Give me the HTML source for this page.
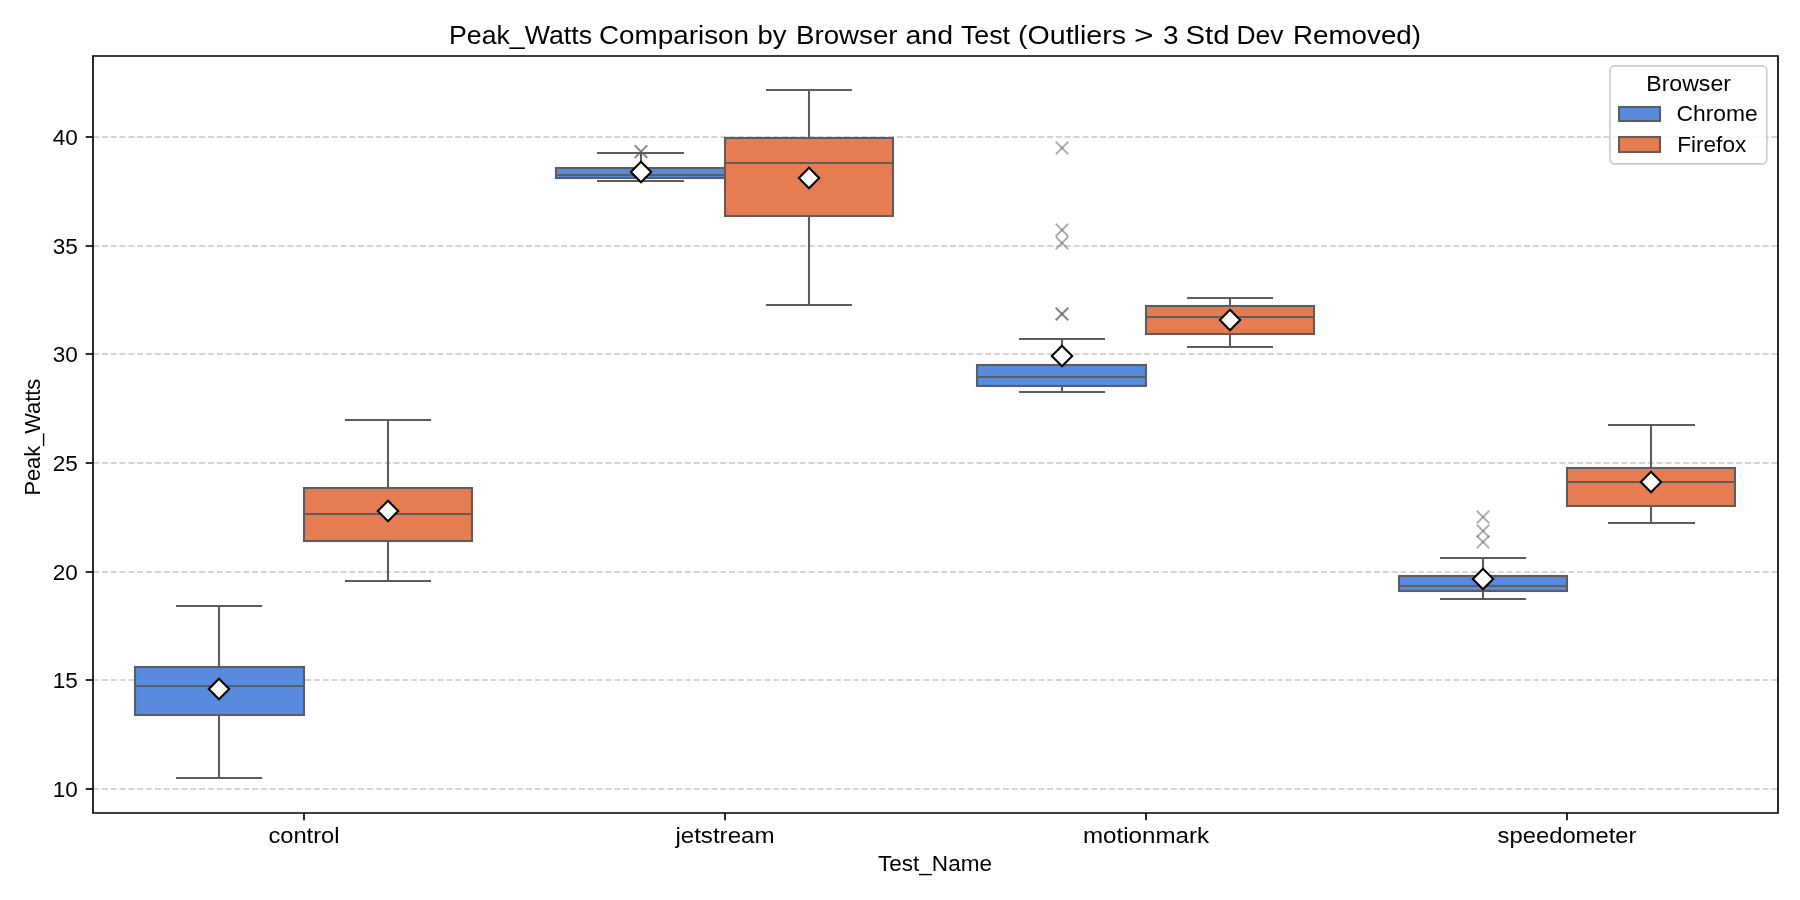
<!DOCTYPE html>
<html><head><meta charset="utf-8"><title>Peak_Watts Comparison</title>
<style>html,body{margin:0;padding:0;background:#fff;-webkit-font-smoothing:antialiased;}svg{display:block;will-change:transform;}text{font-family:"Liberation Sans", sans-serif;fill:#000;}</style></head><body>
<svg width="1800" height="900" viewBox="0 0 1800 900">
<rect x="0" y="0" width="1800" height="900" fill="#fff"/>
<line x1="93.0" y1="789" x2="1778.0" y2="789" stroke="#c8c8c8" stroke-width="1.67" stroke-dasharray="6.1667 2.6667"/>
<line x1="93.0" y1="680" x2="1778.0" y2="680" stroke="#c8c8c8" stroke-width="1.67" stroke-dasharray="6.1667 2.6667"/>
<line x1="93.0" y1="572" x2="1778.0" y2="572" stroke="#c8c8c8" stroke-width="1.67" stroke-dasharray="6.1667 2.6667"/>
<line x1="93.0" y1="463" x2="1778.0" y2="463" stroke="#c8c8c8" stroke-width="1.67" stroke-dasharray="6.1667 2.6667"/>
<line x1="93.0" y1="354" x2="1778.0" y2="354" stroke="#c8c8c8" stroke-width="1.67" stroke-dasharray="6.1667 2.6667"/>
<line x1="93.0" y1="246" x2="1778.0" y2="246" stroke="#c8c8c8" stroke-width="1.67" stroke-dasharray="6.1667 2.6667"/>
<line x1="93.0" y1="137" x2="1778.0" y2="137" stroke="#c8c8c8" stroke-width="1.67" stroke-dasharray="6.1667 2.6667"/>
<g stroke="#5d5d5d" stroke-width="2.08" fill="none">
<line x1="219" y1="667" x2="219" y2="606"/>
<line x1="219" y1="715" x2="219" y2="778"/>
</g>
<rect x="135" y="667" width="169" height="48" fill="#588bde" stroke="#5d5d5d" stroke-width="2.08"/>
<g stroke="#5d5d5d" stroke-width="2.08" fill="none" stroke-linecap="square">
<line x1="177" y1="606" x2="261" y2="606"/>
<line x1="177" y1="778" x2="261" y2="778"/>
</g>
<line x1="135" y1="686" x2="304" y2="686" stroke="#5d5d5d" stroke-width="2.08"/>
<path d="M219 678.80L229.20 689L219 699.20L208.80 689Z" fill="#fff" stroke="#000" stroke-width="2.08"/>
<g stroke="#5d5d5d" stroke-width="2.08" fill="none">
<line x1="388" y1="488" x2="388" y2="420"/>
<line x1="388" y1="541" x2="388" y2="581"/>
</g>
<rect x="304" y="488" width="168" height="53" fill="#e67c52" stroke="#5d5d5d" stroke-width="2.08"/>
<g stroke="#5d5d5d" stroke-width="2.08" fill="none" stroke-linecap="square">
<line x1="346" y1="420" x2="430" y2="420"/>
<line x1="346" y1="581" x2="430" y2="581"/>
</g>
<line x1="304" y1="514" x2="472" y2="514" stroke="#5d5d5d" stroke-width="2.08"/>
<path d="M388 500.80L398.20 511L388 521.20L377.80 511Z" fill="#fff" stroke="#000" stroke-width="2.08"/>
<g stroke="#5d5d5d" stroke-width="2.08" fill="none">
<line x1="641" y1="168" x2="641" y2="153"/>
<line x1="641" y1="178" x2="641" y2="181"/>
</g>
<rect x="556" y="168" width="169" height="10" fill="#588bde" stroke="#5d5d5d" stroke-width="2.08"/>
<g stroke="#5d5d5d" stroke-width="2.08" fill="none" stroke-linecap="square">
<line x1="598" y1="153" x2="683" y2="153"/>
<line x1="598" y1="181" x2="683" y2="181"/>
</g>
<line x1="556" y1="175" x2="725" y2="175" stroke="#5d5d5d" stroke-width="2.08"/>
<path d="M634.75 145.45L647.25 157.95" stroke="#5d5d5d" stroke-opacity="0.5" stroke-width="1.8" fill="none"/>
<path d="M634.75 157.95L647.25 145.45" stroke="#5d5d5d" stroke-opacity="0.5" stroke-width="1.8" fill="none"/>
<path d="M634.75 145.45L647.25 157.95" stroke="#5d5d5d" stroke-opacity="0.5" stroke-width="1.8" fill="none"/>
<path d="M634.75 157.95L647.25 145.45" stroke="#5d5d5d" stroke-opacity="0.5" stroke-width="1.8" fill="none"/>
<path d="M641 161.80L651.20 172L641 182.20L630.80 172Z" fill="#fff" stroke="#000" stroke-width="2.08"/>
<g stroke="#5d5d5d" stroke-width="2.08" fill="none">
<line x1="809" y1="138" x2="809" y2="90"/>
<line x1="809" y1="216" x2="809" y2="305"/>
</g>
<rect x="725" y="138" width="168" height="78" fill="#e67c52" stroke="#5d5d5d" stroke-width="2.08"/>
<g stroke="#5d5d5d" stroke-width="2.08" fill="none" stroke-linecap="square">
<line x1="767" y1="90" x2="851" y2="90"/>
<line x1="767" y1="305" x2="851" y2="305"/>
</g>
<line x1="725" y1="163" x2="893" y2="163" stroke="#5d5d5d" stroke-width="2.08"/>
<path d="M809 167.80L819.20 178L809 188.20L798.80 178Z" fill="#fff" stroke="#000" stroke-width="2.08"/>
<g stroke="#5d5d5d" stroke-width="2.08" fill="none">
<line x1="1062" y1="365" x2="1062" y2="339"/>
<line x1="1062" y1="386" x2="1062" y2="392"/>
</g>
<rect x="977" y="365" width="169" height="21" fill="#588bde" stroke="#5d5d5d" stroke-width="2.08"/>
<g stroke="#5d5d5d" stroke-width="2.08" fill="none" stroke-linecap="square">
<line x1="1020" y1="339" x2="1104" y2="339"/>
<line x1="1020" y1="392" x2="1104" y2="392"/>
</g>
<line x1="977" y1="377" x2="1146" y2="377" stroke="#5d5d5d" stroke-width="2.08"/>
<path d="M1055.75 141.75L1068.25 154.25" stroke="#5d5d5d" stroke-opacity="0.5" stroke-width="1.8" fill="none"/>
<path d="M1055.75 154.25L1068.25 141.75" stroke="#5d5d5d" stroke-opacity="0.5" stroke-width="1.8" fill="none"/>
<path d="M1055.75 223.75L1068.25 236.25" stroke="#5d5d5d" stroke-opacity="0.5" stroke-width="1.8" fill="none"/>
<path d="M1055.75 236.25L1068.25 223.75" stroke="#5d5d5d" stroke-opacity="0.5" stroke-width="1.8" fill="none"/>
<path d="M1055.75 236.75L1068.25 249.25" stroke="#5d5d5d" stroke-opacity="0.5" stroke-width="1.8" fill="none"/>
<path d="M1055.75 249.25L1068.25 236.75" stroke="#5d5d5d" stroke-opacity="0.5" stroke-width="1.8" fill="none"/>
<path d="M1055.75 307.75L1068.25 320.25" stroke="#5d5d5d" stroke-opacity="0.5" stroke-width="1.8" fill="none"/>
<path d="M1055.75 320.25L1068.25 307.75" stroke="#5d5d5d" stroke-opacity="0.5" stroke-width="1.8" fill="none"/>
<path d="M1055.75 307.75L1068.25 320.25" stroke="#5d5d5d" stroke-opacity="0.5" stroke-width="1.8" fill="none"/>
<path d="M1055.75 320.25L1068.25 307.75" stroke="#5d5d5d" stroke-opacity="0.5" stroke-width="1.8" fill="none"/>
<path d="M1062 345.80L1072.20 356L1062 366.20L1051.80 356Z" fill="#fff" stroke="#000" stroke-width="2.08"/>
<g stroke="#5d5d5d" stroke-width="2.08" fill="none">
<line x1="1230" y1="306" x2="1230" y2="298"/>
<line x1="1230" y1="334" x2="1230" y2="347"/>
</g>
<rect x="1146" y="306" width="168" height="28" fill="#e67c52" stroke="#5d5d5d" stroke-width="2.08"/>
<g stroke="#5d5d5d" stroke-width="2.08" fill="none" stroke-linecap="square">
<line x1="1188" y1="298" x2="1272" y2="298"/>
<line x1="1188" y1="347" x2="1272" y2="347"/>
</g>
<line x1="1146" y1="317" x2="1314" y2="317" stroke="#5d5d5d" stroke-width="2.08"/>
<path d="M1230 309.80L1240.20 320L1230 330.20L1219.80 320Z" fill="#fff" stroke="#000" stroke-width="2.08"/>
<g stroke="#5d5d5d" stroke-width="2.08" fill="none">
<line x1="1483" y1="576" x2="1483" y2="558"/>
<line x1="1483" y1="591" x2="1483" y2="599"/>
</g>
<rect x="1399" y="576" width="168" height="15" fill="#588bde" stroke="#5d5d5d" stroke-width="2.08"/>
<g stroke="#5d5d5d" stroke-width="2.08" fill="none" stroke-linecap="square">
<line x1="1441" y1="558" x2="1525" y2="558"/>
<line x1="1441" y1="599" x2="1525" y2="599"/>
</g>
<line x1="1399" y1="586" x2="1567" y2="586" stroke="#5d5d5d" stroke-width="2.08"/>
<path d="M1476.75 510.75L1489.25 523.25" stroke="#5d5d5d" stroke-opacity="0.5" stroke-width="1.8" fill="none"/>
<path d="M1476.75 523.25L1489.25 510.75" stroke="#5d5d5d" stroke-opacity="0.5" stroke-width="1.8" fill="none"/>
<path d="M1476.75 524.75L1489.25 537.25" stroke="#5d5d5d" stroke-opacity="0.5" stroke-width="1.8" fill="none"/>
<path d="M1476.75 537.25L1489.25 524.75" stroke="#5d5d5d" stroke-opacity="0.5" stroke-width="1.8" fill="none"/>
<path d="M1476.75 535.75L1489.25 548.25" stroke="#5d5d5d" stroke-opacity="0.5" stroke-width="1.8" fill="none"/>
<path d="M1476.75 548.25L1489.25 535.75" stroke="#5d5d5d" stroke-opacity="0.5" stroke-width="1.8" fill="none"/>
<path d="M1483 568.80L1493.20 579L1483 589.20L1472.80 579Z" fill="#fff" stroke="#000" stroke-width="2.08"/>
<g stroke="#5d5d5d" stroke-width="2.08" fill="none">
<line x1="1651" y1="468" x2="1651" y2="425"/>
<line x1="1651" y1="506" x2="1651" y2="523"/>
</g>
<rect x="1567" y="468" width="168" height="38" fill="#e67c52" stroke="#5d5d5d" stroke-width="2.08"/>
<g stroke="#5d5d5d" stroke-width="2.08" fill="none" stroke-linecap="square">
<line x1="1609" y1="425" x2="1694" y2="425"/>
<line x1="1609" y1="523" x2="1694" y2="523"/>
</g>
<line x1="1567" y1="482" x2="1735" y2="482" stroke="#5d5d5d" stroke-width="2.08"/>
<path d="M1651 471.80L1661.20 482L1651 492.20L1640.80 482Z" fill="#fff" stroke="#000" stroke-width="2.08"/>
<path d="M93.0 56.0H1778.0M93.0 813.0H1778.0M93.0 56.0V813.0M1778.0 56.0V813.0" fill="none" stroke="#000" stroke-width="1.67" stroke-linecap="square"/>
<line x1="85.70" y1="789" x2="93.0" y2="789" stroke="#000" stroke-width="1.67"/>
<text x="77.8" y="796.60" font-size="22.9" text-anchor="end" textLength="25.1" lengthAdjust="spacingAndGlyphs">10</text>
<line x1="85.70" y1="680" x2="93.0" y2="680" stroke="#000" stroke-width="1.67"/>
<text x="77.8" y="687.60" font-size="22.9" text-anchor="end" textLength="25.1" lengthAdjust="spacingAndGlyphs">15</text>
<line x1="85.70" y1="572" x2="93.0" y2="572" stroke="#000" stroke-width="1.67"/>
<text x="77.8" y="579.60" font-size="22.9" text-anchor="end" textLength="25.1" lengthAdjust="spacingAndGlyphs">20</text>
<line x1="85.70" y1="463" x2="93.0" y2="463" stroke="#000" stroke-width="1.67"/>
<text x="77.8" y="470.60" font-size="22.9" text-anchor="end" textLength="25.1" lengthAdjust="spacingAndGlyphs">25</text>
<line x1="85.70" y1="354" x2="93.0" y2="354" stroke="#000" stroke-width="1.67"/>
<text x="77.8" y="361.60" font-size="22.9" text-anchor="end" textLength="25.1" lengthAdjust="spacingAndGlyphs">30</text>
<line x1="85.70" y1="246" x2="93.0" y2="246" stroke="#000" stroke-width="1.67"/>
<text x="77.8" y="253.60" font-size="22.9" text-anchor="end" textLength="25.1" lengthAdjust="spacingAndGlyphs">35</text>
<line x1="85.70" y1="137" x2="93.0" y2="137" stroke="#000" stroke-width="1.67"/>
<text x="77.8" y="144.60" font-size="22.9" text-anchor="end" textLength="25.1" lengthAdjust="spacingAndGlyphs">40</text>
<line x1="304.00" y1="813.0" x2="304.00" y2="820.3" stroke="#000" stroke-width="1.67"/>
<text x="304.00" y="842.8" font-size="21.6" text-anchor="middle" textLength="71.1" lengthAdjust="spacingAndGlyphs">control</text>
<line x1="725.00" y1="813.0" x2="725.00" y2="820.3" stroke="#000" stroke-width="1.67"/>
<text x="725.00" y="842.8" font-size="21.6" text-anchor="middle" textLength="99.2" lengthAdjust="spacingAndGlyphs">jetstream</text>
<line x1="1146.00" y1="813.0" x2="1146.00" y2="820.3" stroke="#000" stroke-width="1.67"/>
<text x="1146.00" y="842.8" font-size="21.6" text-anchor="middle" textLength="126" lengthAdjust="spacingAndGlyphs">motionmark</text>
<line x1="1567.00" y1="813.0" x2="1567.00" y2="820.3" stroke="#000" stroke-width="1.67"/>
<text x="1567.00" y="842.8" font-size="21.6" text-anchor="middle" textLength="138.9" lengthAdjust="spacingAndGlyphs">speedometer</text>
<text x="449.00" y="43.9" font-size="25.9" textLength="143.00" lengthAdjust="spacingAndGlyphs">Peak_Watts</text>
<text x="599.00" y="43.9" font-size="25.9" textLength="150.00" lengthAdjust="spacingAndGlyphs">Comparison</text>
<text x="757.50" y="43.9" font-size="25.9" textLength="29.00" lengthAdjust="spacingAndGlyphs">by</text>
<text x="796.00" y="43.9" font-size="25.9" textLength="101.50" lengthAdjust="spacingAndGlyphs">Browser</text>
<text x="905.50" y="43.9" font-size="25.9" textLength="47.50" lengthAdjust="spacingAndGlyphs">and</text>
<text x="961.00" y="43.9" font-size="25.9" textLength="49.00" lengthAdjust="spacingAndGlyphs">Test</text>
<text x="1018.00" y="43.9" font-size="25.9" textLength="108.00" lengthAdjust="spacingAndGlyphs">(Outliers</text>
<text x="1134.00" y="43.9" font-size="25.9" textLength="19.50" lengthAdjust="spacingAndGlyphs">&gt;</text>
<text x="1163.00" y="43.9" font-size="25.9" textLength="15.50" lengthAdjust="spacingAndGlyphs">3</text>
<text x="1185.50" y="43.9" font-size="25.9" textLength="44.00" lengthAdjust="spacingAndGlyphs">Std</text>
<text x="1236.50" y="43.9" font-size="25.9" textLength="47.00" lengthAdjust="spacingAndGlyphs">Dev</text>
<text x="1293.00" y="43.9" font-size="25.9" textLength="128.00" lengthAdjust="spacingAndGlyphs">Removed)</text>
<text x="935" y="870.6" font-size="21.6" text-anchor="middle" textLength="114" lengthAdjust="spacingAndGlyphs">Test_Name</text>
<text transform="translate(40.3 437.2) rotate(-90)" x="0" y="0" font-size="22.2" text-anchor="middle" textLength="116.8" lengthAdjust="spacingAndGlyphs">Peak_Watts</text>
<rect x="1610" y="65.9" width="156.8" height="98.0" rx="4.6" ry="4.6" fill="#fff" fill-opacity="0.8" stroke="#cccccc" stroke-width="1.67"/>
<text x="1688.6" y="91" font-size="21.6" text-anchor="middle" textLength="84.7" lengthAdjust="spacingAndGlyphs">Browser</text>
<rect x="1619" y="107" width="41" height="14" fill="#588bde" stroke="#5d5d5d" stroke-width="2.08"/>
<rect x="1619" y="137" width="41" height="15" fill="#e67c52" stroke="#5d5d5d" stroke-width="2.08"/>
<text x="1676.5" y="120.6" font-size="21.6" textLength="81.2" lengthAdjust="spacingAndGlyphs">Chrome</text>
<text x="1677.2" y="151.7" font-size="21.6" textLength="69.1" lengthAdjust="spacingAndGlyphs">Firefox</text>
</svg></body></html>
